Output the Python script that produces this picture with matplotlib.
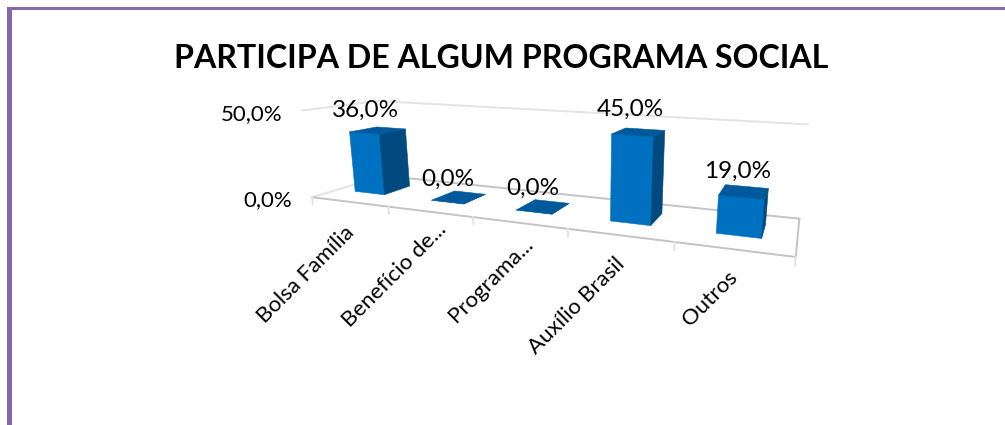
import numpy as np
import matplotlib
matplotlib.use('Agg')
import matplotlib.pyplot as plt
from matplotlib.patches import Rectangle
from mpl_toolkits.mplot3d import proj3d

plt.rcParams['font.family'] = ['Lato', 'DejaVu Sans']

# Dados
titulo = 'PARTICIPA DE ALGUM PROGRAMA SOCIAL'
categorias = ['Bolsa Família', 'Benefício de...', 'Programa...', 'Auxílio Brasil', 'Outros']
valores = [36.0, 0.0, 0.0, 45.0, 19.0]
ticks_y = [0, 50]

# Ajuste fino dos rótulos do eixo x, em pixels (o Excel não os alinha pela perspectiva)
ajuste_x = [(-8, -10), (4, 4), (2, 0), (-7, -6), (-8, -5)]

W, H = 1005, 425
fig = plt.figure(figsize=(W / 100, H / 100), dpi=100, facecolor='white')

# Eixo 3D quadrado, maior que a figura, para nada ser cortado
ax = fig.add_axes([0, (H - W) / 2 / H, 1, W / H], projection='3d', computed_zorder=False)
ax.set_axis_off()
ax.apply_aspect()

# Perspectiva do Excel: pontos (categoria, profundidade, valor) -> pixel da imagem
calib = [
    ((0, 0, 0), (312, 197)), ((1, 0, 0), (388, 206)), ((2, 0, 0), (473, 217)),
    ((3, 0, 0), (568, 229)), ((4, 0, 0), (675, 242)), ((5, 0, 0), (796, 256)),
    ((5, 1, 0), (799, 220)), ((0, 1, 0), (384, 176)), ((0, 1, 50), (378, 100)),
    ((5, 1, 50), (808, 124)), ((0, 0, 50), (302, 112)),
]
linhas = []
for (x, y, z), (px, py) in calib:
    u, v = ax.transData.inverted().transform((px, H - py))
    linhas.append([x, y, z, 1, 0, 0, 0, 0, -u * x, -u * y, -u * z, -u])
    linhas.append([0, 0, 0, 0, x, y, z, 1, -v * x, -v * y, -v * z, -v])
P = np.linalg.svd(np.array(linhas))[2][-1].reshape(3, 4)
if P[2] @ [2.5, 0.5, 0, 1] < 0:
    P = -P
# terceira linha negativa: o mplot3d esconde linhas com profundidade positiva
M = np.array([P[0], P[1], [0, -1, 0, -1], P[2]])
ax.get_proj = lambda: M


def texto(x, y, z, s, desvio=(0, 0), **kw):
    # Text3D ignora rotation, então projeta o ponto e usa texto 2D
    x2, y2, _ = proj3d.proj_transform(x, y, z, M)
    ax.annotate(s, (x2, y2), xytext=desvio, textcoords='offset pixels', color='black',
                zorder=3, annotation_clip=False, **kw)


# Paredes e chão
cinza, cinza2 = '#E3E3E3', '#C4C4C4'
for xs, ys, zs, c in [
    ([0, 0], [0, 1], [50, 50], cinza), ([0, 5], [1, 1], [50, 50], cinza),
    ([0, 0], [0, 1], [0, 0], cinza), ([0, 5], [1, 1], [0, 0], cinza2),
    ([5, 5], [0, 1], [0, 0], cinza2), ([0, 5], [0, 0], [0, 0], cinza2),
]:
    ax.plot(xs, ys, zs, color=c, lw=1.4, zorder=1)
for i in range(len(categorias) + 1):
    ax.plot([i, i], [0, 0], [0, -4], color=cinza, lw=1.4, zorder=1)

# Barras: só topo, frente e lado direito ficam visíveis
frente, topo, lado = '#0070C0', '#00599A', '#004A80'
vazio = (0, 0, 0, 0)
cores = [vazio, topo, frente, vazio, vazio, lado] * len(valores)
larg, prof = 0.40, 0.38
idx = np.arange(len(valores))
pos = idx + 0.44 + 0.015 * idx - larg / 2
ax.bar3d(pos, np.full(5, 0.33), np.zeros(5), larg, prof, valores, color=cores, edgecolor=cores,
         linewidth=0.4, shade=False, zorder=2)

# Rótulos
for i, v in enumerate(valores):
    texto(i + 0.5 - 0.01 * i, 0.3, v + 7.7, f'{v:.1f}%'.replace('.', ','), fontsize=17.5, ha='center', va='bottom')
for i, nome in enumerate(categorias):
    texto(i + 0.52, 0, -6, nome, desvio=ajuste_x[i], fontsize=16, ha='right', va='top',
          rotation=45, rotation_mode='anchor')
for t in ticks_y:
    texto(-0.28, 0, t - 3, f'{t:.1f}%'.replace('.', ','), fontsize=16, ha='right', va='center')

fig.text(501 / W, 1 - 59 / H, titulo, fontsize=23.1, fontweight='bold', ha='center', va='center', color='black')

# Moldura roxa do slide
roxo = '#8468A8'
fig.add_artist(Rectangle((7 / W, 0), 5 / W, 1 - 7 / H, transform=fig.transFigure, color=roxo, lw=0))
fig.add_artist(Rectangle((7 / W, 1 - 10 / H), 1 - 7 / W, 3 / H, transform=fig.transFigure, color=roxo, lw=0))

fig.savefig('out.png', dpi=100)
